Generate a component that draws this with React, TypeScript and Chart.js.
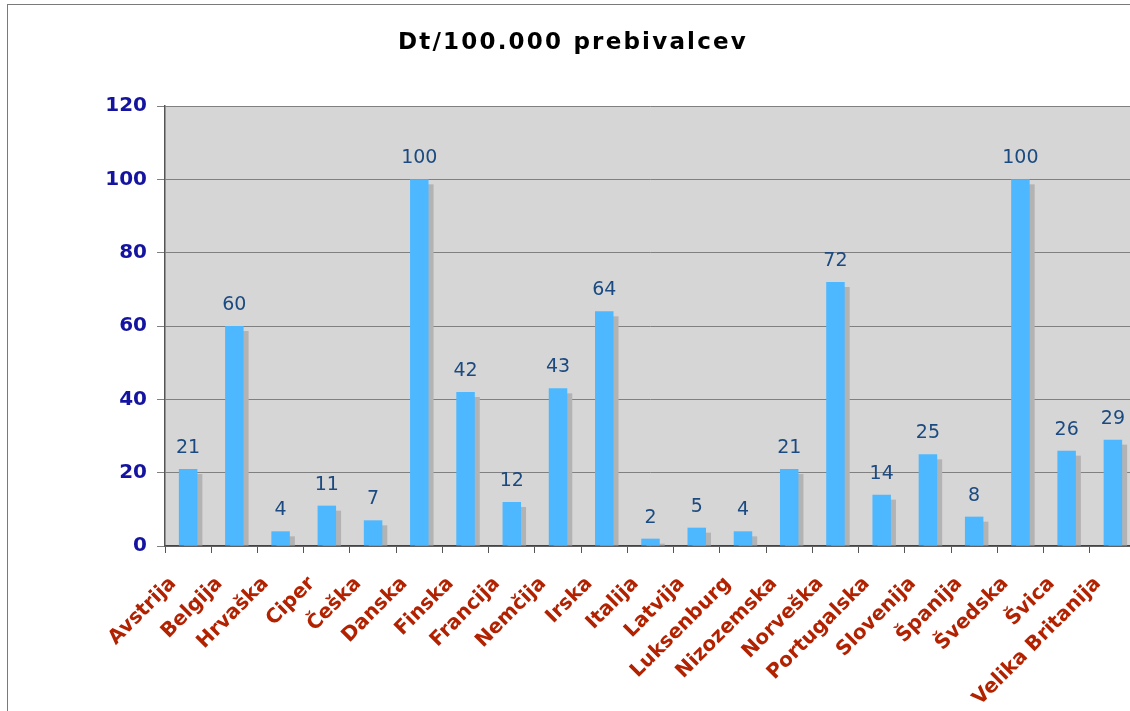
import React, { useEffect, useRef } from "react";
import { Chart, registerables } from "chart.js";

Chart.register(...registerables);

const titleText = "Dt/100.000 prebivalcev";
const countries = [
  "Avstrija", "Belgija", "Hrvaška", "Ciper", "Češka", "Danska", "Finska",
  "Francija", "Nemčija", "Irska", "Italija", "Latvija", "Luksenburg",
  "Nizozemska", "Norveška", "Portugalska", "Slovenija", "Španija",
  "Švedska", "Švica", "Velika Britanija",
];
const values = [21, 60, 4, 11, 7, 100, 42, 12, 43, 64, 2, 5, 4, 21, 72, 14, 25, 8, 100, 26, 29];
const yMin = 0;
const yMax = 120;
const yStep = 20;

const FONT = "'DejaVu Sans', Verdana, sans-serif";

const bgPlugin = {
  id: "plotBg",
  beforeDraw(chart: any) {
    const { ctx, chartArea } = chart;
    ctx.save();
    ctx.fillStyle = "#D6D6D6";
    ctx.fillRect(chartArea.left, chartArea.top, chartArea.right - chartArea.left, chartArea.bottom - chartArea.top);
    ctx.restore();
  },
};

const titlePlugin = {
  id: "spacedTitle",
  afterDraw(chart: any) {
    const { ctx } = chart;
    ctx.save();
    ctx.font = `bold 23px ${FONT}`;
    (ctx as any).letterSpacing = "2.2px";
    ctx.fillStyle = "#000000";
    ctx.textAlign = "center";
    ctx.textBaseline = "alphabetic";
    ctx.fillText(titleText, 565, 43.5);
    ctx.restore();
  },
};

const shadowPlugin = {
  id: "barShadow",
  beforeDatasetsDraw(chart: any) {
    const { ctx, chartArea } = chart;
    const meta = chart.getDatasetMeta(0);
    ctx.save();
    ctx.beginPath();
    ctx.rect(chartArea.left, chartArea.top, chartArea.right - chartArea.left, chartArea.bottom - chartArea.top);
    ctx.clip();
    ctx.fillStyle = "#B3B3B3";
    meta.data.forEach((bar: any) => {
      const { x, y, base, width } = bar.getProps(["x", "y", "base", "width"], true);
      ctx.fillRect(x - width / 2 + 5, y + 5, width, base - y - 5);
    });
    ctx.restore();
  },
};

const labelPlugin = {
  id: "valueLabels",
  afterDatasetsDraw(chart: any) {
    const { ctx } = chart;
    const meta = chart.getDatasetMeta(0);
    const data = chart.data.datasets[0].data;
    ctx.save();
    ctx.font = `19px ${FONT}`;
    ctx.fillStyle = "#1B4A80";
    ctx.textAlign = "center";
    ctx.textBaseline = "alphabetic";
    meta.data.forEach((bar: any, i: number) => {
      const { x, y } = bar.getProps(["x", "y"], true);
      ctx.fillText(String(data[i]), x, y - 16);
    });
    ctx.restore();
  },
};

export default function App() {
  const ref = useRef<HTMLCanvasElement | null>(null);

  useEffect(() => {
    if (!ref.current) return;
    const chart = new Chart(ref.current, {
      type: "bar",
      data: {
        labels: countries,
        datasets: [
          {
            data: values,
            backgroundColor: "#4DB8FF",
            borderWidth: 0,
            barPercentage: 0.4,
            categoryPercentage: 1,
          },
        ],
      },
      options: {
        responsive: false,
        animation: false,
        layout: { padding: { left: 0, right: 32, top: 101, bottom: 0 } },
        plugins: {
          legend: { display: false },
          tooltip: { enabled: false },
          title: { display: false },
        },
        scales: {
          x: {
            offset: true,
            grid: {
              display: true,
              offset: true,
              drawOnChartArea: false,
              drawTicks: true,
              tickLength: 7,
              color: "#555555",
            },
            border: { display: true, color: "#444444", width: 1.5 },
            ticks: {
              autoSkip: false,
              minRotation: 45,
              maxRotation: 45,
              padding: 19,
              labelOffset: -15,
              color: "#B22200",
              font: { family: FONT, size: 20, weight: "bold" },
            },
            afterFit(scale: any) {
              scale.height = 159;
            },
          },
          y: {
            min: yMin,
            max: yMax,
            grid: {
              color: "#808080",
              lineWidth: 1,
              tickLength: 8,
            },
            border: { display: true, color: "#555555", width: 1.5 },
            ticks: {
              stepSize: yStep,
              padding: 10,
              color: "#1414A0",
              font: { family: FONT, size: 20, weight: "bold" },
            },
            afterFit(scale: any) {
              scale.width = 157;
            },
          },
        },
      },
      plugins: [bgPlugin, shadowPlugin, labelPlugin, titlePlugin],
    } as any);
    return () => chart.destroy();
  }, []);

  return (
    <div style={{ position: "fixed", left: 0, top: 0, width: 1130, height: 711, overflow: "hidden", background: "#fff" }}>
      <div style={{ position: "absolute", left: 7, top: 4, width: 1200, height: 760, border: "1px solid #7a7a7a" }}>
        <canvas ref={ref} width={1160} height={700} style={{ display: "block" }} />
      </div>
    </div>
  );
}
